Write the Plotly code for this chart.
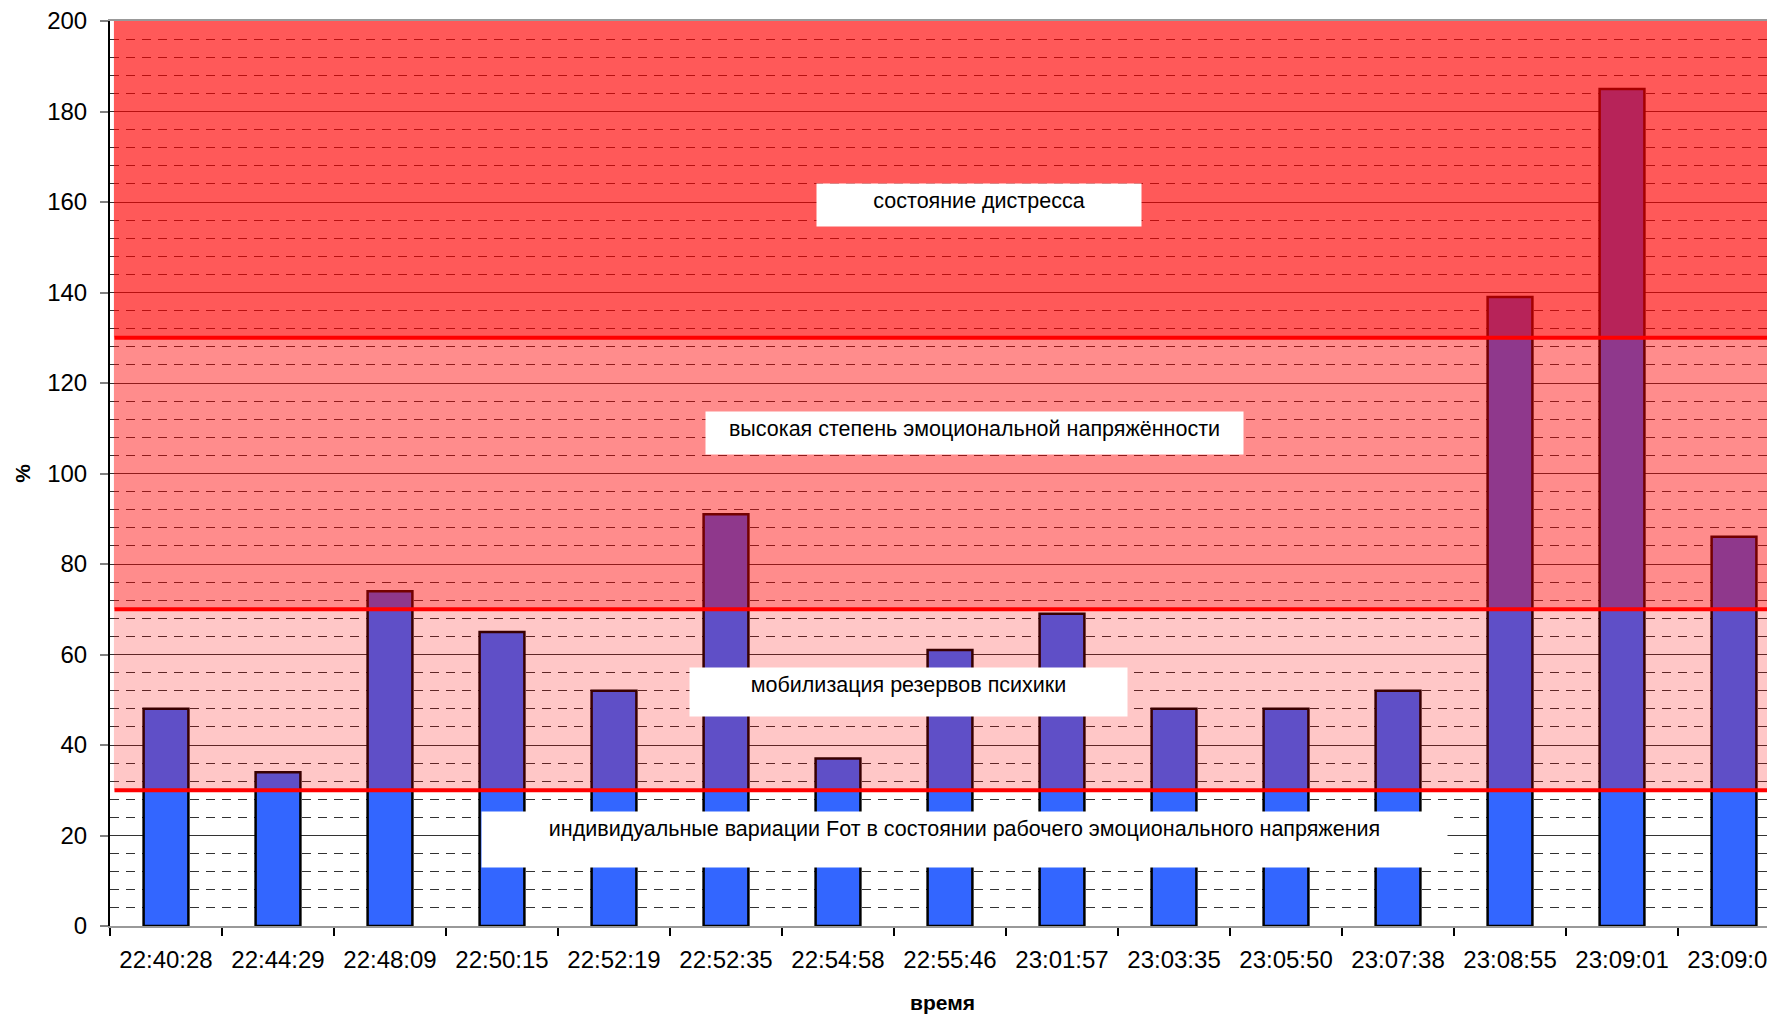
import plotly.graph_objects as go

# время замера и значения (%)
times = ["22:40:28", "22:44:29", "22:48:09", "22:50:15", "22:52:19", "22:52:35",
         "22:54:58", "22:55:46", "23:01:57", "23:03:35", "23:05:50", "23:07:38",
         "23:08:55", "23:09:01", "23:09:07"]
values = [48, 34, 74, 65, 52, 91, 37, 61, 69, 48, 48, 52, 139, 185, 86]

# границы зон
zone_low = [30, 70, 130]
zone_high = [70, 130, 200]
zone_alpha = [0.22, 0.45, 0.65]
limits = [30, 70, 130]

zone_labels = [
    "состояние дистресса",
    "высокая степень эмоциональной напряжённости",
    "мобилизация резервов психики",
    "индивидуальные вариации Fот в состоянии рабочего эмоционального напряжения",
]

FONT = "Liberation Sans, Arial, sans-serif"

fig = go.Figure()
fig.add_trace(go.Bar(
    x=times, y=values,
    marker=dict(color="#3366FF", line=dict(color="black", width=2.5)),
))

# зоны поверх столбцов (полупрозрачные)
for lo, hi, a in zip(zone_low, zone_high, zone_alpha):
    fig.add_shape(type="rect", xref="x", yref="y", x0=-0.465, x1=14.6, y0=lo, y1=hi,
                  fillcolor=f"rgba(255,0,0,{a})", line=dict(width=0), layer="above")

for v in limits:
    fig.add_shape(type="line", xref="x", yref="y", x0=-0.46, x1=14.6, y0=v, y1=v,
                  line=dict(color="#FF0000", width=4), layer="above")

# подписи зон в белых рамках
boxes = [
    (0.522, 0.797, 324, 42),
    (0.519, 0.545, 537, 42),
    (0.4796, 0.2586, 437, 48),
    (0.5132, 0.0956, 965, 55),
]
pad = 5
for text, (bx, by, bw, bh) in zip(zone_labels, boxes):
    fig.add_annotation(x=bx, y=by, xref="paper", yref="paper", text=text,
                       showarrow=False, width=bw - 2 * pad, height=bh - 2 * pad, valign="top",
                       bgcolor="white", borderpad=pad, xanchor="center", yanchor="middle",
                       font=dict(size=21.5, color="black", family=FONT))

# страница даёт отступ 8px, поэтому размеры чуть меньше
fig.update_layout(
    width=1767, height=1006,
    margin=dict(l=102, r=0, t=13, b=88),
    plot_bgcolor="white", paper_bgcolor="white",
    bargap=0.6, showlegend=False,
    font=dict(family=FONT, color="black", size=24),
)
fig.update_xaxes(
    range=[-0.5, 14.366], tickson="boundaries", ticks="outside", ticklen=8,
    tickcolor="black", tickwidth=1.5, showline=True, linecolor="#999999", linewidth=2,
    mirror=True, showgrid=False, ticklabelstandoff=11, ticklabeloverflow="allow",
    title=dict(text="<b>время</b>", font=dict(size=21), standoff=24), automargin=False,
)
fig.update_yaxes(
    range=[0, 200], dtick=20, ticks="outside", ticklen=8, tickcolor="#808080", tickwidth=2,
    showline=True, linecolor="black", linewidth=2,
    showgrid=True, gridcolor="#333333", gridwidth=1,
    minor=dict(dtick=4, showgrid=True, gridcolor="#333333", griddash="9px,7px", gridwidth=1),
    ticklabelstandoff=8, ticklabeloverflow="allow", zeroline=False,
    title=dict(text="<b>%</b>", font=dict(size=21), standoff=11), automargin=False,
)

fig.write_html("out.html")
